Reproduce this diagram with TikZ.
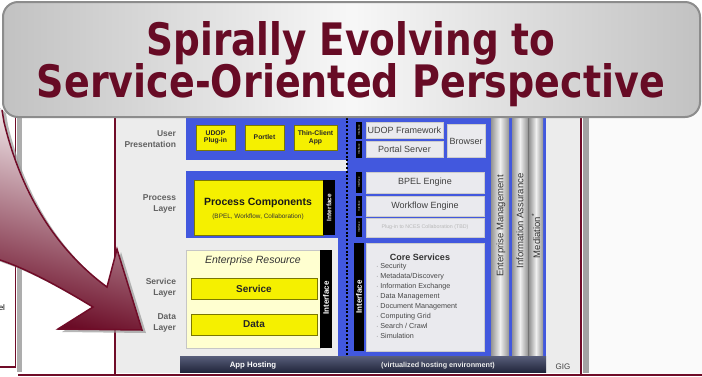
\documentclass[tikz,border=0pt]{standalone}
\usepackage{fontspec}
\newfontfamily\af{Liberation Sans}
\newfontfamily\tf{DejaVu Sans}
\definecolor{maroon}{RGB}{112,12,40}
\definecolor{dblue}{RGB}{66,88,222}
\definecolor{yel}{RGB}{245,240,0}
\definecolor{lyel}{RGB}{255,255,208}
\definecolor{lgray}{RGB}{234,234,238}
\definecolor{bggray}{RGB}{236,236,236}
\definecolor{hosttop}{RGB}{88,94,122}
\definecolor{hostbot}{RGB}{34,38,60}
\begin{document}
\begin{tikzpicture}[x=1pt,y=-1pt,
  every node/.style={inner sep=0pt,outer sep=0pt},
  ybox/.style={draw=black!50!yel, line width=0.8pt, fill=yel, text=black!85, align=center, anchor=north west},
  gbox/.style={draw=white!60!gray, line width=0.6pt, fill=lgray, text=black!75, align=center, anchor=north west,
     font=\af\fontsize{9}{10}\selectfont},
  tabtxt/.style={text=white, font=\af\bfseries\fontsize{8}{9}\selectfont, rotate=90},
  minitab/.style={text=white, font=\af\fontsize{2.6}{3}\selectfont, rotate=90},
  lbl/.style={font=\af\bfseries\fontsize{8.5}{10.5}\selectfont, text=black!62, align=right, anchor=east},
  col/.style={left color=black!42, right color=black!42, middle color=black!6},
  coltxt/.style={font=\af\fontsize{9.5}{10}\selectfont, text=black!80, rotate=90},
  frame/.style={maroon, line width=2pt}
]
\useasboundingbox (0,0) rectangle (702,376);
\clip (0,0) rectangle (702,376);
% backgrounds
\fill[white] (0,0) rectangle (702,376);
\fill[white!96!gray] (589,100) rectangle (702,376);
% left panel (previous slide)
\fill[black!32] (17,110) rectangle (22,372);
\draw[maroon, line width=1.5pt] (15.5,105) -- (15.5,367) -- (-2,367);
\node[anchor=east, font=\af\fontsize{8}{9}\selectfont] (lv) at (5,308) {el};
% main frame
\fill[bggray] (116,110) rectangle (581,373);
\fill[black!36] (583,110) rectangle (589,373);

% blue bands
\fill[dblue] (186,110) rectangle (347,160);
\fill[dblue] (186,171) rectangle (347,238);
\fill[dblue] (338,238) rectangle (347,356);
\fill[dblue] (347,110) rectangle (546,356);
\draw[black, line width=2.4pt, dash pattern=on 2pt off 1.8pt] (347,110) -- (347,356);

% left labels
\node[lbl] (l1) at (176,139) {User\\Presentation};
\node[lbl] (l2) at (176,204) {Process\\Layer};
\node[lbl] (l3) at (176,288) {Service\\Layer};
\node[lbl] (l4) at (176,323) {Data\\Layer};

% user presentation boxes
\node[ybox, minimum width=39, minimum height=25, font=\af\bfseries\fontsize{6.8}{7.5}\selectfont] (udop) at (196,125) {UDOP\\Plug-in};
\node[ybox, minimum width=39, minimum height=25, font=\af\bfseries\fontsize{6.8}{7.5}\selectfont] (portlet) at (245,125) {Portlet};
\node[ybox, minimum width=43, minimum height=25, font=\af\bfseries\fontsize{6.8}{7.5}\selectfont] (thin) at (294,125) {Thin-Client\\App};

% process components
\node[ybox, minimum width=129, minimum height=55] (proc) at (194,180) {};
\node[font=\af\bfseries\fontsize{10.5}{12}\selectfont, text=black!90] (proct) at (258,203) {Process Components};
\node[font=\af\fontsize{6.4}{7}\selectfont, text=black!80] (procs) at (258,217) {(BPEL, Workflow, Collaboration)};
\fill[black] (323,180) rectangle (335,235);
\node[tabtxt, font=\af\bfseries\fontsize{6.5}{7}\selectfont] (pint) at (329,207.5) {Interface};

% enterprise resource
\node[draw=white!55!gray, line width=0.6pt, fill=lyel, minimum width=134, minimum height=98, anchor=north west] (er) at (186,250) {};
\node[font=\af\itshape\fontsize{10.5}{12}\selectfont, text=black!80] (ert) at (253,261) {Enterprise Resource};
\node[ybox, minimum width=126, minimum height=21, font=\af\bfseries\fontsize{10}{11}\selectfont] (serv) at (191,278) {Service};
\node[ybox, minimum width=126, minimum height=21, font=\af\bfseries\fontsize{10}{11}\selectfont] (data) at (191,314) {Data};
\fill[black] (320,250) rectangle (332,348);
\node[tabtxt] (erint) at (326,298) {Interface};

% right side boxes
\node[gbox, minimum width=77, minimum height=16.5] (udopfw) at (366,122) {UDOP Framework};
\node[gbox, minimum width=77, minimum height=16.5] (portal) at (366,141) {Portal Server};
\node[gbox, minimum width=38, minimum height=33] (browser) at (447,124.5) {Browser};
\node[gbox, minimum width=118, minimum height=21] (bpel) at (366,172) {BPEL Engine};
\node[gbox, minimum width=118, minimum height=20] (wf) at (366,196) {Workflow Engine};
\node[gbox, minimum width=118, minimum height=19, font=\af\fontsize{5.3}{6}\selectfont, text=black!28] (collab) at (366,218) {Plug-in to NCES Collaboration (TBD)};
% small interface tabs
\foreach \n/\ya/\yb in {a/122/138.5, b/141/157.5, c/172/193, d/196/216, e/218/237}{
  \fill[black] (356,\ya) rectangle (362,\yb);
  \node[minitab] (mt\n) at (359,{(\ya+\yb)/2}) {Interface};
}
% core services
\node[gbox, minimum width=118, minimum height=108] (core) at (366,243) {};
\node[font=\af\bfseries\fontsize{9}{10}\selectfont, text=black!80] (coret) at (420,257) {Core Services};
\node[anchor=north west, align=left, font=\af\fontsize{7.2}{10}\selectfont, text=black!72] (corel) at (376,263.5)
 {$\cdot$ Security\\ $\cdot$ Metadata/Discovery\\ $\cdot$ Information Exchange\\ $\cdot$ Data Management\\
  $\cdot$ Document Management\\ $\cdot$ Computing Grid\\ $\cdot$ Search / Crawl\\ $\cdot$ Simulation};
\fill[black] (354,243) rectangle (364,351);
\node[tabtxt] (cint) at (359,297) {Interface};

% vertical columns
\path[col] (491,110) rectangle (509,356);
\path[col] (512,110) rectangle (528,356);
\path[col] (529,110) rectangle (543,356);
\draw[black!55, line width=0.5pt] (528.5,110) -- (528.5,356);
\node[coltxt] (em) at (501,226) {Enterprise Management};
\node[coltxt] (ia) at (520,221) {Information Assurance};
\node[coltxt] (med) at (536,236) {Mediation\textsuperscript{*}};

% app hosting
\path[top color=hosttop, bottom color=hostbot] (180,356) rectangle (546,372);
\node[font=\af\bfseries\fontsize{7.8}{9}\selectfont, text=white] (apph) at (253,365.5) {App Hosting};
\node[font=\af\bfseries\fontsize{7.2}{9}\selectfont, text=white!92!black] (virt) at (438,365.5) {(virtualized hosting environment)};
\node[font=\af\fontsize{8}{9}\selectfont, text=black!75] (gig) at (563,367) {GIG};

% frame lines
\draw[frame] (115,105) -- (115,374);
\draw[frame] (581,105) -- (581,374);
\draw[frame] (18,374.5) -- (704,374.5);

% big arrow shadow
\begin{scope}[shift={(4,3)}]
\fill[black!40, opacity=0.7] (-10,100) -- (2,110) -- (4,122) .. controls (25,210) and (70,260) .. (107,287)
  -- (117,249) -- (142,330) -- (58,329) -- (93,307) .. controls (65,290) and (30,270) .. (0,260) -- (-10,256) -- cycle;
\end{scope}
% big arrow
\path[left color=white, middle color=maroon!40!white, right color=maroon!95!black, shading angle=-15]
  (-10,100) -- (2,110) -- (4,122) .. controls (25,210) and (70,260) .. (107,287)
  -- (117,249) -- (142,330) -- (58,329) -- (93,307) .. controls (65,290) and (30,270) .. (0,260) -- (-10,256) -- cycle;
\draw[maroon, line width=1.5pt, line join=miter]
  (2,110) -- (4,122) .. controls (25,210) and (70,260) .. (107,287)
  -- (117,249) -- (142,330) -- (58,329) -- (93,307) .. controls (65,290) and (30,270) .. (0,260) -- (-10,256);

% title box
\path[rounded corners=15pt, left color=black!24, right color=black!24, middle color=black!3]
  (3,2) rectangle (700,117);
\draw[black!45, line width=2pt, rounded corners=15pt] (3,2) rectangle (700,117);
\node[anchor=base, text=maroon!92!black] (t1) at (351,55) {\resizebox{409pt}{34pt}{\tf\bfseries Spirally Evolving to}};
\node[anchor=base, text=maroon!92!black] (t2) at (351,97) {\resizebox{628pt}{34pt}{\tf\bfseries Service-Oriented Perspective}};
\end{tikzpicture}
\end{document}
